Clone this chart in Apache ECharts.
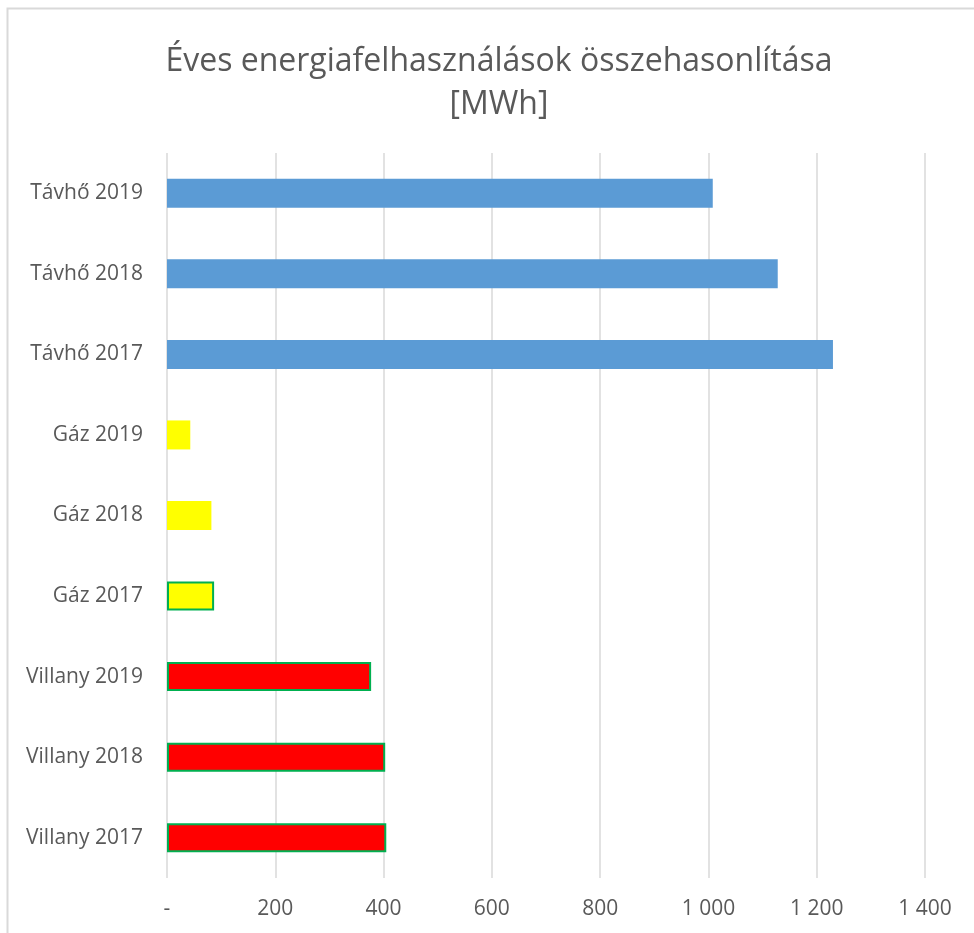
<!DOCTYPE html>
<html>
<head>
<meta charset="utf-8">
<script src="https://cdn.jsdelivr.net/npm/echarts@6/dist/echarts.min.js"></script>
<style>
  html, body { margin: 0; padding: 0; background: #fff; }
  #chart { width: 974px; height: 933px; }
</style>
</head>
<body>
<div id="chart"></div>
<script>
// Kategóriák felülről lefelé
var categories = ['Távhő 2019', 'Távhő 2018', 'Távhő 2017',
                  'Gáz 2019', 'Gáz 2018', 'Gáz 2017',
                  'Villany 2019', 'Villany 2018', 'Villany 2017'];
// Energiafelhasználás [MWh]
var values = [1008, 1128, 1230, 43, 82, 87, 377, 403, 405];
var xTicks = [0, 200, 400, 600, 800, 1000, 1200, 1400];

// Színek kategóriánként
var fills = ['#5b9bd5', '#5b9bd5', '#5b9bd5', '#ffff00', '#ffff00', '#ffff00', '#ff0000', '#ff0000', '#ff0000'];
var borders = [null, null, null, null, null, '#00b050', '#00b050', '#00b050', '#00b050'];

var font = "'Open Sans', sans-serif";

function fmt(v) {
    if (v === 0) return '-';
    return String(v).replace(/\B(?=(\d{3})+(?!\d))/g, ' ');
}

var chart = echarts.init(document.getElementById('chart'));

var option = {
    animation: false,
    backgroundColor: '#fff',
    title: {
        text: 'Éves energiafelhasználások összehasonlítása\n[MWh]',
        left: 494,
        top: 35,
        textAlign: 'center',
        textStyle: {
            fontFamily: font,
            fontSize: 32,
            fontWeight: 'normal',
            color: '#595959',
            lineHeight: 43
        }
    },
    graphic: [{
        type: 'rect',
        shape: { x: 7.5, y: 8.5, width: 1000, height: 1000 },
        style: { fill: 'none', stroke: '#d9d9d9', lineWidth: 2 },
        silent: true
    }],
    grid: { left: 167, right: 49, top: 153, bottom: 55, containLabel: false },
    xAxis: {
        type: 'value',
        min: xTicks[0],
        max: xTicks[xTicks.length - 1],
        interval: 200,
        axisLine: { show: false },
        axisTick: { show: false },
        axisLabel: {
            formatter: fmt,
            margin: 21,
            fontFamily: font,
            fontSize: 21,
            color: '#595959'
        },
        splitLine: { show: true, lineStyle: { color: '#d9d9d9', width: 1.5 } }
    },
    yAxis: {
        type: 'category',
        data: categories,
        inverse: true,
        axisLine: { show: false },
        axisTick: { show: false },
        axisLabel: {
            margin: 24,
            fontFamily: font,
            fontSize: 21,
            color: '#595959'
        }
    },
    series: [{
        type: 'bar',
        barWidth: '36%',
        data: values.map(function (v, i) {
            return {
                value: v,
                itemStyle: {
                    color: fills[i],
                    borderColor: borders[i] || fills[i],
                    borderWidth: borders[i] ? 2 : 0
                }
            };
        })
    }]
};

chart.setOption(option);
</script>
</body>
</html>
